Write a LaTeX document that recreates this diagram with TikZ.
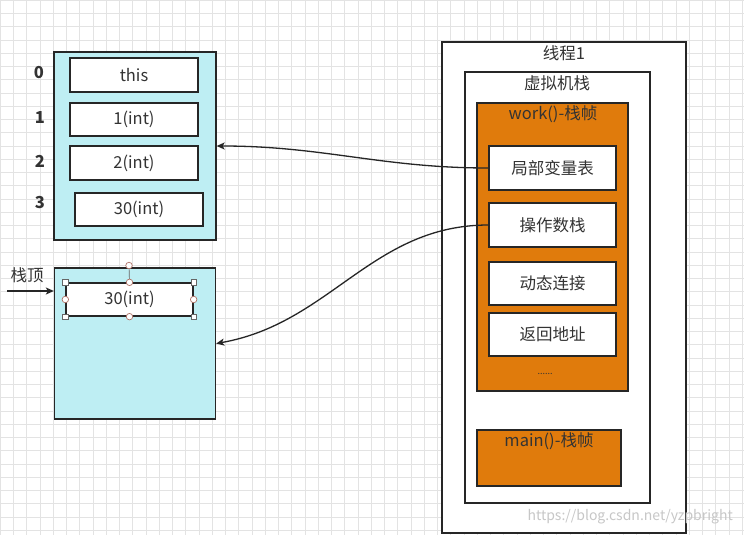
\documentclass[tikz,border=0pt]{standalone}
\usepackage{fontspec}
\setmainfont{Noto Sans CJK SC}
\usetikzlibrary{positioning}
\usetikzlibrary{arrows.meta}
\definecolor{stackcyan}{HTML}{BEEEF3}
\definecolor{frameorange}{HTML}{E07B0C}
\definecolor{handlered}{HTML}{B0756A}
\definecolor{inkgray}{HTML}{333333}
\tikzset{>={Stealth[length=8pt,width=7pt,inset=2pt]}}
\tikzset{box/.style={draw=black!85,line width=1.3pt,inner sep=0pt}}
\tikzset{slot/.style={box,fill=white,minimum width=128pt,minimum height=34pt,text=inkgray,font=\fontsize{16.5}{19}\selectfont}}
\tikzset{part/.style={slot,minimum width=127pt,minimum height=43pt}}
\tikzset{idx/.style={text=inkgray,font=\fontsize{16.5}{19}\selectfont\bfseries}}
\tikzset{lbl/.style={text=inkgray,font=\fontsize{16.5}{19}\selectfont}}
\tikzset{link/.style={->,line width=1.3pt,black!85}}
\tikzset{roundhandle/.style={draw=handlered,fill=white,circle,minimum size=6.5pt,inner sep=0pt,line width=0.7pt}}
\tikzset{squarehandle/.style={draw=black!60,fill=white,minimum size=5.5pt,inner sep=0pt,line width=0.7pt}}
\begin{document}
\begin{tikzpicture}[x=1pt,y=-1pt]
\fill[white] (0,0) rectangle (744,535);
\useasboundingbox (0,0) rectangle (744,535);
\draw[black!11,step=13.25pt] (0,0) grid (744,535);

\node (locals) [box,fill=stackcyan,minimum width=162pt,minimum height=188pt] at (135,146) {};
\node (lv0) [slot] at (134,75) {this};
\node (lv1) [slot,minimum height=33pt] at (134,119.5) {1(int)};
\node (lv2) [slot] at (134,163) {2(int)};
\node (lv3) [slot,minimum height=33pt] at (139,209.5) {30(int)};
\node (i0) [idx] at (39,73) {0};
\node (i1) [idx] at (40,118) {1};
\node (i2) [idx] at (40,161) {2};
\node (i3) [idx] at (40,203) {3};

\node (opstack) [box,fill=stackcyan,minimum width=161pt,minimum height=151pt] at (135,343.5) {};
\node (top30) [slot,minimum width=127pt,minimum height=33pt] at (129.5,299.5) {30(int)};
\node (rot) [roundhandle] at (129,265.5) {};
\draw[black!60,line width=0.7pt] (rot) -- (top30.north);
\foreach \a in {north,south,east,west}
  \node [roundhandle] at (top30.\a) {};
\foreach \a in {north west,north east,south west,south east}
  \node [squarehandle] at (top30.\a) {};
\node (toplbl) [lbl] at (27,275) {栈顶};
\coordinate (topin) at (7,291);
\draw[link] (topin) -- (opstack.west |- topin);

\node (thread) [box,fill=white,minimum width=244pt,minimum height=491pt] at (564,287.5) {};
\node (thlbl) [lbl] at (564,53) {线程1};
\node (vms) [box,fill=white,minimum width=185pt,minimum height=431pt] at (557.5,287.5) {};
\node (vmslbl) [lbl] at (557,83) {虚拟机栈};
\node (work) [box,fill=frameorange,minimum width=151pt,minimum height=288pt] at (552.5,247) {};
\node (worklbl) [lbl] at (553,114) {work()-栈帧};
\node (lvt) [part,minimum height=44pt] at (552.5,168) {局部变量表};
\node (ops) [part,minimum height=44pt] at (552.5,225) {操作数栈};
\node (dyn) [part] at (552.5,283.5) {动态连接};
\node (ret) [part] at (552.5,334.5) {返回地址};
\node (more) [text=inkgray,font=\fontsize{9}{10}\selectfont] at (545,374) {......};
\node (main) [box,fill=frameorange,minimum width=144pt,minimum height=56pt] at (549,458) {};
\node (mainlbl) [lbl] at (549,441) {main()-栈帧};

\draw[link] (lvt.west) to[out=180,in=0] (locals.east);
\draw[link] (ops.west) to[out=180,in=10] (opstack.east);

\node (mark) [anchor=east,inner sep=0pt,text=black!22,font=\fontsize{14}{17}\selectfont] at (733,517) {https://blog.csdn.net/yzpbright};
\end{tikzpicture}
\end{document}
